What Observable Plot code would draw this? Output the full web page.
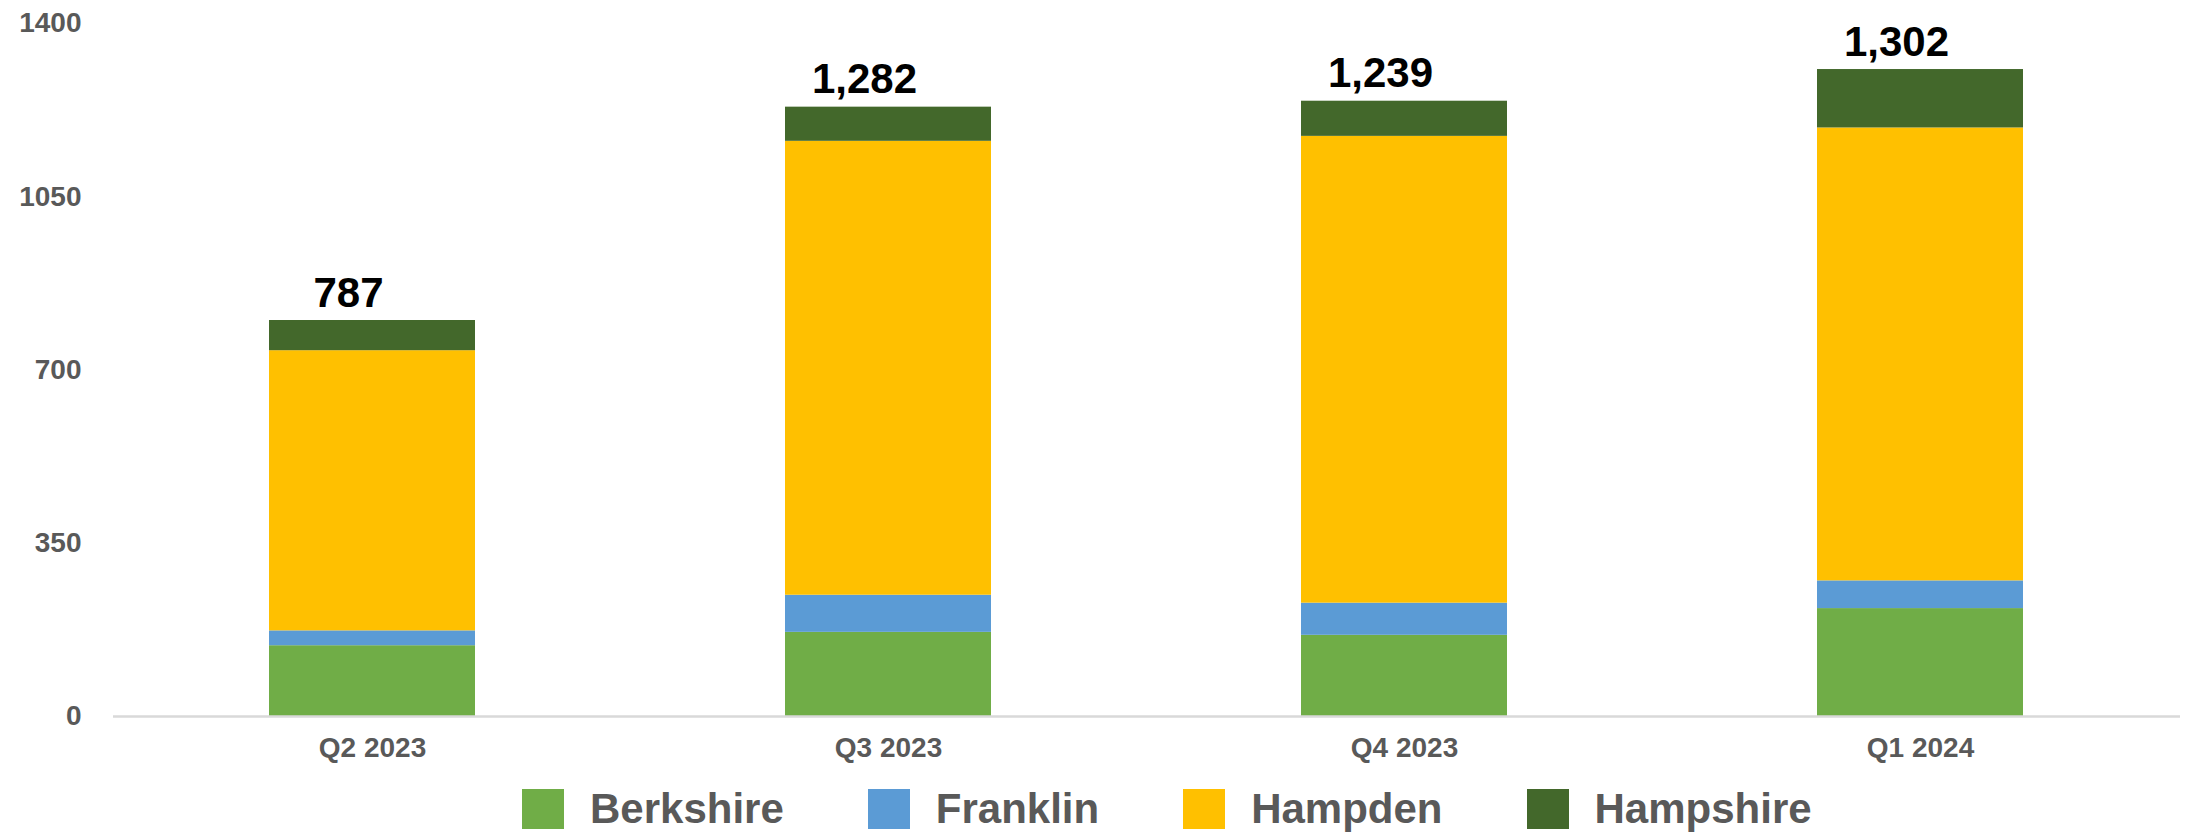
<!DOCTYPE html>
<html>
<head>
<meta charset="utf-8">
<script src="https://cdn.jsdelivr.net/npm/d3@7"></script>
<script src="https://cdn.jsdelivr.net/npm/@observablehq/plot@0.6"></script>
<style>
  html, body { margin: 0; padding: 0; background: #ffffff; }
  body { width: 2188px; font-family: "Liberation Sans", Arial, Helvetica, sans-serif; }
  #legend { display: flex; align-items: center; margin-left: 522px; height: 62px; padding-top: 8px; }
  .item { display: flex; align-items: center; margin-right: 84px; }
  .swatch { width: 42px; height: 40px; margin-right: 26px; }
  .lab { font-size: 42px; font-weight: bold; color: #595959; }
</style>
</head>
<body>
<div id="chart"></div>
<div id="legend"></div>
<script>
const quarters = ["Q2 2023", "Q3 2023", "Q4 2023", "Q1 2024"];
const counties = ["Berkshire", "Franklin", "Hampden", "Hampshire"];
const colors = ["#70AD47", "#5B9BD5", "#FFC000", "#43682B"];
const berkshire = [143, 170, 164, 218];
const franklin = [30, 75, 65, 56];
const hampden = [566, 917, 943, 915];
const hampshire = [61, 69, 71, 118];
const totalLabels = ["787", "1,282", "1,239", "1,302"];
const yTicks = [0, 350, 700, 1050, 1400];

const series = [berkshire, franklin, hampden, hampshire];
const data = quarters.flatMap((q, i) =>
  counties.map((c, j) => ({quarter: q, county: c, value: series[j][i]}))
);
const totals = quarters.map((q, i) => ({
  quarter: q,
  total: series.reduce((s, arr) => s + arr[i], 0),
  label: totalLabels[i]
}));

const chart = Plot.plot({
  width: 2188,
  height: 770,
  marginLeft: 113,
  marginRight: 8,
  marginTop: 23,
  marginBottom: 54,
  style: {
    fontFamily: "'Liberation Sans', Arial, Helvetica, sans-serif",
    fontSize: "28px",
    fontWeight: "bold",
    color: "#595959",
    background: "#ffffff"
  },
  x: {domain: quarters, paddingInner: 0.6, paddingOuter: 0.3, label: null},
  y: {domain: [0, 1400], label: null},
  color: {domain: counties, range: colors},
  marks: [
    Plot.barY(data, Plot.stackY({x: "quarter", y: "value", fill: "county"})),
    Plot.ruleY([0], {stroke: "#d9d9d9", strokeWidth: 2.5}),
    Plot.axisY({ticks: yTicks, tickSize: 0, tickPadding: 32, tickFormat: d => String(d), label: null}),
    Plot.axisX({tickSize: 0, tickPadding: 21, label: null}),
    Plot.text(totals, {
      x: "quarter", y: "total", text: "label",
      dx: -24, dy: -14, lineAnchor: "bottom",
      fontSize: 42, fontWeight: "bold", fill: "#000000"
    })
  ]
});
document.getElementById("chart").appendChild(chart);

const legend = document.getElementById("legend");
counties.forEach((c, i) => {
  const item = document.createElement("div");
  item.className = "item";
  const sw = document.createElement("div");
  sw.className = "swatch";
  sw.style.background = colors[i];
  const lab = document.createElement("span");
  lab.className = "lab";
  lab.textContent = c;
  item.appendChild(sw);
  item.appendChild(lab);
  legend.appendChild(item);
});
</script>
</body>
</html>
